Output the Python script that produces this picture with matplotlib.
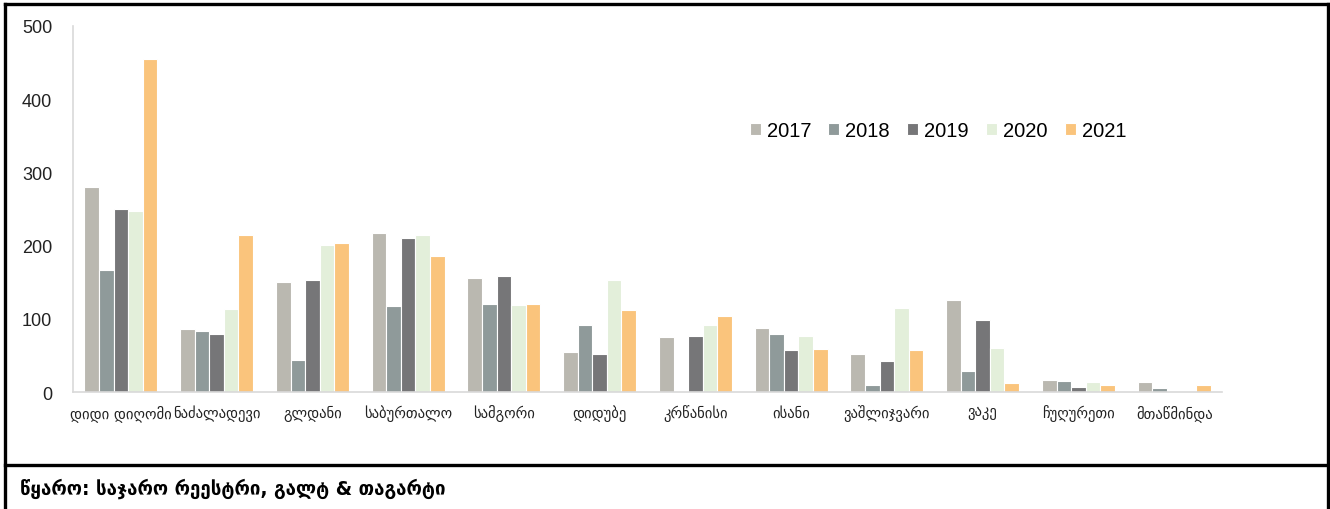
import matplotlib
matplotlib.use("Agg")
import matplotlib.pyplot as plt
from matplotlib.lines import Line2D
import numpy as np

districts = ["დიდი დიღომი", "ნაძალადევი", "გლდანი", "საბურთალო", "სამგორი", "დიდუბე",
             "კრწანისი", "ისანი", "ვაშლიჯვარი", "ვაკე", "ჩუღურეთი", "მთაწმინდა"]
years = ["2017", "2018", "2019", "2020", "2021"]
v2017 = [280, 86, 150, 217, 156, 54, 75, 88, 52, 126, 16, 13]
v2018 = [167, 84, 44, 117, 120, 92, 0, 79, 9, 29, 15, 6]
v2019 = [250, 79, 153, 211, 159, 52, 77, 57, 43, 99, 7, 0]
v2020 = [247, 113, 201, 215, 119, 153, 91, 77, 115, 60, 14, 0]
v2021 = [455, 214, 204, 186, 120, 112, 104, 59, 58, 12, 10, 9]
series = [v2017, v2018, v2019, v2020, v2021]
colors = ["#BAB8B0", "#8F9A9A", "#767678", "#E3EFDA", "#FAC47C"]
yticks = [0, 100, 200, 300, 400, 500]
source = "წყარო: საჯარო რეესტრი, გალტ & თაგარტი"

plt.rcParams['font.family'] = ['Liberation Sans', 'DejaVu Sans']

fig = plt.figure(figsize=(13.3, 5.1), dpi=100)
ax = fig.add_axes([73/1330, 1-393/510, (1222-73)/1330, (393-27)/510])

x = np.arange(len(districts))
bw = 0.152
for i, (vals, col, yr) in enumerate(zip(series, colors, years)):
    ax.bar(x + (i - 2) * bw, vals, width=bw, color=col, edgecolor="white",
           linewidth=0.8, label=yr)

ax.set_xlim(-0.5, len(districts) - 0.5)
ax.set_ylim(0, 500)
ax.set_yticks(yticks)
ax.set_yticklabels([str(t) for t in yticks], fontsize=13, color="#222222")
ax.set_xticks(x)
ax.set_xticklabels(districts, fontsize=10.5, family=['DejaVu Sans'], color="#222222")
ax.tick_params(axis='both', length=0)
ax.tick_params(axis='y', pad=15)
ax.tick_params(axis='x', pad=9)
for s in ["top", "right"]:
    ax.spines[s].set_visible(False)
for s in ["left", "bottom"]:
    ax.spines[s].set_color("#D9D9D9")
    ax.spines[s].set_linewidth(1.2)

leg = fig.legend(loc="center", bbox_to_anchor=(938/1330, 1-132/510), ncol=5,
                 frameon=False, fontsize=14.5, handlelength=0.55, handleheight=0.55,
                 handletextpad=0.3, columnspacing=0.85)

# outer frame and source row
lw = 2.4
fig.add_artist(Line2D([5/1330, 1328/1330], [1-5/510, 1-5/510], transform=fig.transFigure, color="black", lw=lw))
fig.add_artist(Line2D([5/1330, 5/1330], [0, 1-5/510], transform=fig.transFigure, color="black", lw=lw))
fig.add_artist(Line2D([1328/1330, 1328/1330], [0, 1-5/510], transform=fig.transFigure, color="black", lw=lw))
fig.add_artist(Line2D([5/1330, 1328/1330], [1-466/510, 1-466/510], transform=fig.transFigure, color="black", lw=lw))
fig.text(20/1330, 1-489/510, source, fontsize=13.5, fontweight="bold",
         family=['DejaVu Sans'], va="center", ha="left", color="black")

fig.savefig("out.png", dpi=100)
